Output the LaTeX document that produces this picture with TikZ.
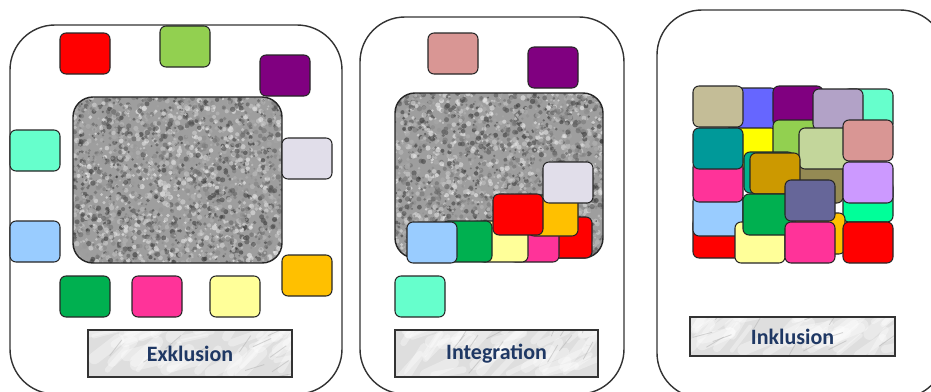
\documentclass[tikz,border=0pt]{standalone}
\usepackage{fontspec}
\newfontfamily\labelfont{Carlito}
\definecolor{titleblue}{RGB}{31,56,100}
\definecolor{tileRed}{HTML}{FF0000}
\definecolor{leafGreen}{HTML}{92D050}
\definecolor{plum}{HTML}{800080}
\definecolor{aqua}{HTML}{66FFCC}
\definecolor{lavender}{HTML}{E1DEEA}
\definecolor{skyBlue}{HTML}{99CCFF}
\definecolor{amber}{HTML}{FFC000}
\definecolor{emerald}{HTML}{00B050}
\definecolor{hotPink}{HTML}{FF3399}
\definecolor{paleYellow}{HTML}{FFFF99}
\definecolor{rose}{HTML}{D99694}
\definecolor{tan}{HTML}{C4BD97}
\definecolor{iris}{HTML}{6666FF}
\definecolor{lilac}{HTML}{B2A2C7}
\definecolor{teal}{HTML}{009999}
\definecolor{lemon}{HTML}{FFFF00}
\definecolor{sage}{HTML}{C3D69B}
\definecolor{jade}{HTML}{00B08C}
\definecolor{gold}{HTML}{CC9900}
\definecolor{olive}{HTML}{948A54}
\definecolor{violet}{HTML}{CC99FF}
\definecolor{slate}{HTML}{666699}
\definecolor{spring}{HTML}{00FF99}
\tikzset{tile/.style = {draw=black!85, line width=0.6pt, rounded corners=0.12cm},
         frame/.style = {draw=black!80, line width=0.8pt, fill=white, rounded corners=0.9cm},
         labelbox/.style = {draw=black!80, line width=0.9pt},
         labeltext/.style = {font=\labelfont\bfseries\fontsize{12.5}{14}\selectfont, text=titleblue}}
% grainy grey block: x1, y1, x2, y2
\newcommand{\noisebox}[4]{%
  \begin{scope}
    \clip [rounded corners=0.4cm] (#1,#2) rectangle (#3,#4);
    \fill [black!38] (#1,#2) rectangle (#3,#4);
    \foreach \i in {1,...,2600}{
      \pgfmathsetmacro\nx{#1+(#3-#1)*rnd}
      \pgfmathsetmacro\ny{#2+(#4-#2)*rnd}
      \pgfmathsetmacro\ng{int(5+75*rnd)}
      \pgfmathsetmacro\nr{0.02+0.035*rnd}
      \fill [black!\ng, opacity=0.6] (\nx,\ny) circle (\nr cm);}
  \end{scope}
  \draw [line width=0.8pt, black!85, rounded corners=0.4cm] (#1,#2) rectangle (#3,#4);}
% marble plate under the titles: x1, y1, x2, y2
\newcommand{\marblebox}[4]{%
  \begin{scope}
    \clip (#1,#2) rectangle (#3,#4);
    \fill [black!13] (#1,#2) rectangle (#3,#4);
    \foreach \i in {1,...,45}{
      \pgfmathsetmacro\mx{#1+(#3-#1)*rnd}
      \pgfmathsetmacro\my{#2+(#4-#2)*rnd}
      \pgfmathsetmacro\mw{2+5*rnd}
      \pgfmathsetmacro\ma{-60+50*rnd}
      \draw [white, line width=\mw pt, opacity=0.35, line cap=round] (\mx,\my) -- ++(\ma:30);}
    \foreach \i in {1,...,12}{
      \pgfmathsetmacro\mx{#1+(#3-#1)*rnd}
      \pgfmathsetmacro\my{#2+(#4-#2)*rnd}
      \pgfmathsetmacro\ma{-70+60*rnd}
      \draw [black!30, line width=0.5pt, opacity=0.5] (\mx,\my) -- ++(\ma:20);}
  \end{scope}
  \draw [labelbox] (#1,#2) rectangle (#3,#4);}

\begin{document}
\begin{tikzpicture}[x=0.02cm, y=-0.02cm]
      \pgfmathsetseed{42}
      \useasboundingbox (0,0) rectangle (931,392);
      % three frames
      \draw [frame] (10,25) rectangle (342,394);
      \draw [frame] (360,17) rectangle (624,394);
      \draw [frame] (657,10) rectangle (945,398);
      % Exklusion
      \noisebox{73}{97}{282}{263}
      \foreach \c/\xa/\ya in {tileRed/60/33, leafGreen/160/26, plum/260/55, aqua/10/130,
                              lavender/282/138, skyBlue/10/221, amber/282/255, emerald/60/276,
                              hotPink/132/276, paleYellow/210/276}{
      \draw [tile, fill=\c] (\xa,\ya) rectangle +(50,41);}
      \marblebox{88}{330}{292}{377}
      \node [labeltext] (exkl) at (190,353.5) {Exklusion};
      % Integration
      \noisebox{395}{93}{603}{258}
      \foreach \c/\xa/\ya in {rose/428/33, plum/528/47, tileRed/542/217, hotPink/509/221,
                              paleYellow/478/221, emerald/442/221, skyBlue/407/222, amber/528/195,
                              tileRed/493/194, lavender/543/162, aqua/395/276}{
      \draw [tile, fill=\c] (\xa,\ya) rectangle +(50,41);}
      \marblebox{395}{330}{598}{377}
      \node [labeltext] (integ) at (496.5,353.5) {Integration};
      % Inklusion
      \foreach \c/\xa/\ya in {tileRed/693/217, spring/843/181, amber/795/213, iris/727/88,
                              plum/773/86, aqua/843/89, tan/693/86, lemon/727/128,
                              leafGreen/773/120, lilac/813/89, jade/744/152, olive/793/162,
                              sage/799/128, rose/843/120, skyBlue/693/195, hotPink/693/161,
                              teal/693/128, gold/750/153, violet/843/162, paleYellow/735/222,
                              emerald/743/194, hotPink/785/222, slate/785/180, tileRed/843/222}{
      \draw [tile, fill=\c] (\xa,\ya) rectangle +(50,41);}
      \marblebox{690}{317}{895}{356}
      \node [labeltext] (inkl) at (792.5,336.5) {Inklusion};
    \end{tikzpicture}
\end{document}
